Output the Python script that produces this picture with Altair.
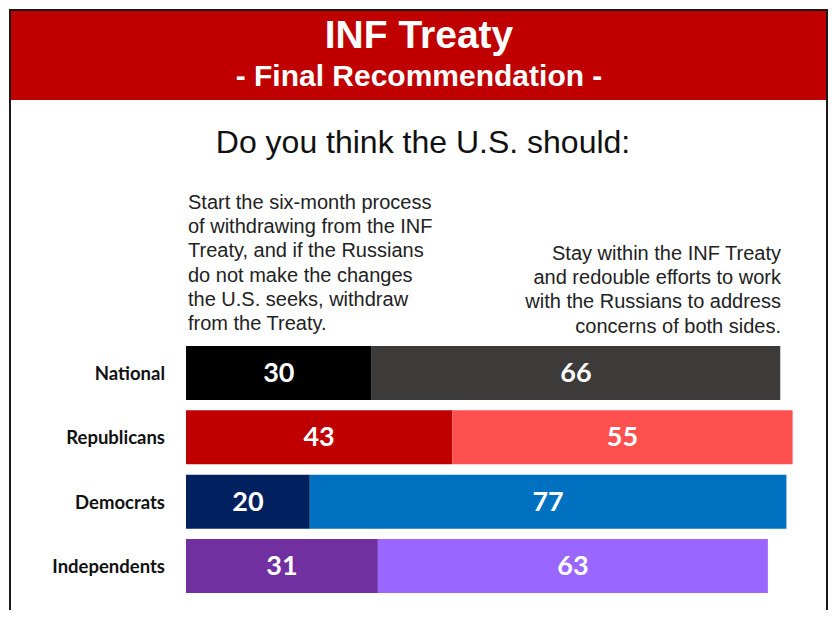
import altair as alt
import pandas as pd

# ---- data ----
groups = ["National", "Republicans", "Democrats", "Independents"]
withdraw = [30, 43, 20, 31]
stay = [66, 55, 77, 63]
sides = ["Withdraw", "Stay"]

title_text = "INF Treaty"
subtitle_text = "- Final Recommendation -"
question_text = "Do you think the U.S. should:"
left_lines = [
    "Start the six-month process",
    "of withdrawing from the INF",
    "Treaty, and if the Russians",
    "do not make the changes",
    "the U.S. seeks, withdraw",
    "from the Treaty.",
]
right_lines = [
    "Stay within the INF Treaty",
    "and redouble efforts to work",
    "with the Russians to address",
    "concerns of both sides.",
]

# ---- styles ----
withdraw_colors = ["#000000", "#c00000", "#002060", "#7030a0"]
stay_colors = ["#3c3b3a", "#ff5050", "#0070c0", "#9966ff"]

rows = []
keys, colors = [], []
for g, w, s, cw, cs in zip(groups, withdraw, stay, withdraw_colors, stay_colors):
    rows.append(dict(group=g, side=sides[0], value=w, start=0, end=w, key=g + "|" + sides[0]))
    rows.append(dict(group=g, side=sides[1], value=s, start=w, end=w + s, key=g + "|" + sides[1]))
    keys += [g + "|" + sides[0], g + "|" + sides[1]]
    colors += [cw, cs]
df = pd.DataFrame(rows)
df["mid"] = (df["start"] + df["end"]) / 2

one = pd.DataFrame({"a": [0]})

xscale = alt.Scale(domain=[0, 100], range=[178, 797])
yscale = alt.Scale(domain=groups, range=[332.85, 590.15], paddingInner=0.16, paddingOuter=0.08)

border = alt.Chart(one).mark_rect(fill="white", stroke="#1a1a1a", strokeWidth=2).encode(
    x=alt.value(2), x2=alt.value(819), y=alt.value(2), y2=alt.value(640)
)
banner = alt.Chart(one).mark_rect(fill="#c00000").encode(
    x=alt.value(3), x2=alt.value(818), y=alt.value(3), y2=alt.value(92)
)
title = alt.Chart(one).mark_text(
    font="Liberation Sans", fontWeight="bold", fontSize=39, color="white", align="center", baseline="alphabetic"
).encode(x=alt.value(411), y=alt.value(40), text=alt.value(title_text))
subtitle = alt.Chart(one).mark_text(
    font="Liberation Sans", fontWeight="bold", fontSize=30, color="white", align="center", baseline="alphabetic"
).encode(x=alt.value(411), y=alt.value(78), text=alt.value(subtitle_text))
question = alt.Chart(one).mark_text(
    font="Liberation Sans", fontSize=32, color="#111111", align="center", baseline="alphabetic"
).encode(x=alt.value(415), y=alt.value(145), text=alt.value(question_text))
left_block = alt.Chart(one).mark_text(
    font="Liberation Sans", fontSize=20, color="#222222", align="left", baseline="alphabetic", lineHeight=24.2
).encode(x=alt.value(180), y=alt.value(201), text=alt.value(left_lines))
right_block = alt.Chart(one).mark_text(
    font="Liberation Sans", fontSize=20, color="#222222", align="right", baseline="alphabetic", lineHeight=24.2
).encode(x=alt.value(773), y=alt.value(252), text=alt.value(right_lines))

bars = alt.Chart(df).mark_bar().encode(
    x=alt.X("start:Q", scale=xscale, axis=None),
    x2="end:Q",
    y=alt.Y("group:N", scale=yscale, axis=None),
    color=alt.Color("key:N", scale=alt.Scale(domain=keys, range=colors), legend=None),
)
values = alt.Chart(df).mark_text(
    font="Lato", fontWeight="bold", fontSize=27, color="white", align="center", baseline="middle", dy=1
).encode(
    x=alt.X("mid:Q", scale=xscale, axis=None),
    y=alt.Y("group:N", scale=yscale, axis=None, bandPosition=0.5),
    text="value:Q",
)
labels_df = pd.DataFrame({"group": groups})
row_labels = alt.Chart(labels_df).mark_text(
    font="Lato", fontWeight="bold", fontSize=18.5, color="#111111", align="right", baseline="middle", dy=1
).encode(
    x=alt.value(157),
    y=alt.Y("group:N", scale=yscale, axis=None, bandPosition=0.5),
    text="group:N",
)

chart = alt.layer(
    border, banner, title, subtitle, question, left_block, right_block, bars, values, row_labels
).properties(
    width=820, height=602, autosize=alt.AutoSizeParams(type="none"), padding=0
).configure_view(stroke=None)

chart.save("out.html", embed_options={"renderer": "svg", "actions": False})
